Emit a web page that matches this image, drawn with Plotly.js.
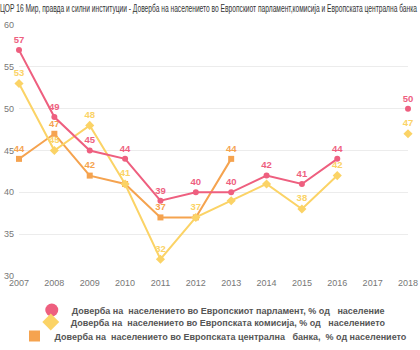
<!DOCTYPE html>
<html><head><meta charset="utf-8">
<script src="https://cdn.plot.ly/plotly-3.0.1.min.js"></script>
<style>html,body{margin:0;padding:0;background:#fff}#chart{width:420px;height:350px}</style>
</head><body><div id="chart"></div>
<script>
const years = [2007,2008,2009,2010,2011,2012,2013,2014,2015,2016,2017,2018];
const parliament = [57,49,45,44,39,40,40,42,41,44,null,50];
const commission = [53,45,48,41,32,37,39,41,38,42,null,47];
const bank = [44,47,42,41,37,37,44,null,null,null,null,null];
const parliamentLabel = [1,1,1,1,1,1,1,1,1,1,0,1];
const commissionLabel = [1,1,1,1,1,1,0,0,1,1,0,1];
const bankLabel = [1,1,1,0,1,0,1,0,0,0,0,0];
const names = [
  'Доверба на  населението во Европскиот парламент, % од   население',
  'Доверба на  населението во Европската комисија, % од   населението',
  'Доверба на  населението во Европската централна   банка,  % од населението'
];
const titleText = 'ЦОР 16 Мир, правда и силни институции - Доверба на населението во Европскиот парламент,комисија и Европската централна банка';
const colors = ['#ee5f7f','#fbd366','#f5a34f'];
const symbols = ['circle','diamond','square'];
const series = [parliament, commission, bank];
const masks = [parliamentLabel, commissionLabel, bankLabel];
const legends = ['legend','legend2','legend3'];

const traces = [];
[2,1,0].forEach(i => {
  traces.push({
    x: years, y: series[i], type: 'scatter', mode: 'lines+markers+text',
    text: series[i].map((v,k) => (v!==null && masks[i][k]) ? String(v) : ''),
    textposition: 'top center',
    textfont: {family: 'Arial, Liberation Sans, sans-serif', size: 9.5, color: colors[i], weight: 'bold'},
    line: {color: colors[i], width: 2},
    marker: {color: colors[i], size: i===1 ? 7 : 6, symbol: symbols[i]},
    connectgaps: false, showlegend: false, cliponaxis: false, hoverinfo: 'x+y'
  });
});
[0,1,2].forEach(i => {
  traces.push({
    x: [null], y: [null], type: 'scatter', mode: 'markers', name: names[i],
    marker: {color: colors[i], size: i===2 ? 11 : 13, symbol: symbols[i]},
    showlegend: true, legend: legends[i]
  });
});

const legendBase = {
  xref: 'paper', yref: 'container', xanchor: 'center', yanchor: 'middle',
  orientation: 'h', bgcolor: 'rgba(0,0,0,0)', itemwidth: 30,
  font: {family: 'Arial, Liberation Sans, sans-serif', size: 9, color: '#555', weight: 'bold'},
  tracegroupgap: 0
};

const layout = {
  width: 420, height: 350,
  margin: {l: 19, r: 12, t: 25, b: 74},
  paper_bgcolor: '#fff', plot_bgcolor: '#fff',
  title: {
    text: titleText,
    font: {family: 'Liberation Sans, Arial, sans-serif', size: 10.5, color: '#333'},
    x: 0, xanchor: 'left', xref: 'container', y: 0.977, yanchor: 'middle', yref: 'container'
  },
  xaxis: {
    range: [2007, 2018], tickvals: years, ticktext: years.map(String),
    showgrid: false, zeroline: false, showline: false, ticks: '',
    tickfont: {family: 'Arial, Liberation Sans, sans-serif', size: 9, color: '#777'},
    fixedrange: true
  },
  yaxis: {
    range: [30, 60], tickvals: [30,35,40,45,50,55,60],
    showgrid: true, gridcolor: '#ececec', gridwidth: 1, zeroline: false, showline: false, ticks: '',
    tickfont: {family: 'Arial, Liberation Sans, sans-serif', size: 9, color: '#777'},
    ticklabelstandoff: 4, fixedrange: true
  },
  legend: Object.assign({}, legendBase, {y: 40/350, x: 0.493}),
  legend2: Object.assign({}, legendBase, {y: 28/350, x: 0.493}),
  legend3: Object.assign({}, legendBase, {y: 14/350, x: 0.5}),
  showlegend: true
};

Plotly.newPlot('chart', traces, layout, {displayModeBar: false, staticPlot: true}).then(gd => {
  const t = gd.querySelector('.gtitle');
  if (t) {
    t.setAttribute('textLength', '417');
    t.setAttribute('lengthAdjust', 'spacingAndGlyphs');
  }
});
</script></body></html>
